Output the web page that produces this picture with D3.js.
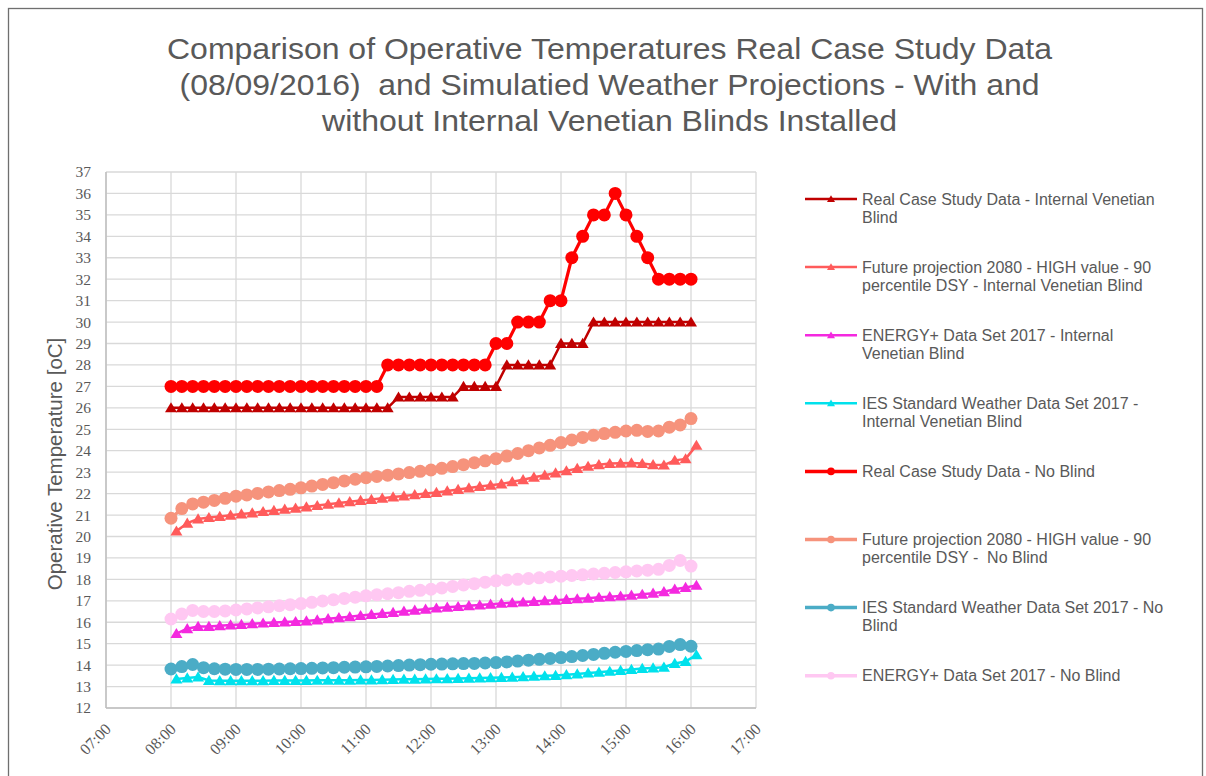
<!DOCTYPE html>
<html><head><meta charset="utf-8">
<script src="https://cdn.jsdelivr.net/npm/d3@7/dist/d3.min.js"></script>
<style>body{margin:0;background:#fff}svg{display:block}</style>
</head><body>
<svg id="c" width="1206" height="776"></svg>
<script>
const timesA = ["08:00","08:10","08:20","08:30","08:40","08:50","09:00","09:10","09:20","09:30","09:40","09:50","10:00","10:10","10:20","10:30","10:40","10:50","11:00","11:10","11:20","11:30","11:40","11:50","12:00","12:10","12:20","12:30","12:40","12:50","13:00","13:10","13:20","13:30","13:40","13:50","14:00","14:10","14:20","14:30","14:40","14:50","15:00","15:10","15:20","15:30","15:40","15:50","16:00"];
const timesB = ["08:05","08:15","08:25","08:35","08:45","08:55","09:05","09:15","09:25","09:35","09:45","09:55","10:05","10:15","10:25","10:35","10:45","10:55","11:05","11:15","11:25","11:35","11:45","11:55","12:05","12:15","12:25","12:35","12:45","12:55","13:05","13:15","13:25","13:35","13:45","13:55","14:05","14:15","14:25","14:35","14:45","14:55","15:05","15:15","15:25","15:35","15:45","15:55","16:05"];
const xTickLabels = ["07:00","08:00","09:00","10:00","11:00","12:00","13:00","14:00","15:00","16:00","17:00"];
const yTicks = [12,13,14,15,16,17,18,19,20,21,22,23,24,25,26,27,28,29,30,31,32,33,34,35,36,37];

const realBlind = [26,26,26,26,26,26,26,26,26,26,26,26,26,26,26,26,26,26,26,26,26,26.5,26.5,26.5,26.5,26.5,26.5,27,27,27,27,28,28,28,28,28,29,29,29,30,30,30,30,30,30,30,30,30,30];
const futureBlind = [20.25,20.62,20.82,20.88,20.93,20.99,21.05,21.1,21.16,21.21,21.27,21.32,21.38,21.44,21.5,21.56,21.62,21.68,21.73,21.78,21.84,21.89,21.95,22.0,22.05,22.12,22.19,22.26,22.33,22.39,22.45,22.55,22.65,22.76,22.86,22.96,23.06,23.17,23.27,23.35,23.4,23.42,23.43,23.4,23.35,23.33,23.55,23.62,24.25];
const energyBlind = [15.47,15.7,15.8,15.8,15.84,15.87,15.9,15.93,15.96,15.99,16.01,16.03,16.06,16.11,16.16,16.21,16.26,16.31,16.36,16.41,16.46,16.51,16.56,16.61,16.66,16.7,16.73,16.77,16.8,16.84,16.88,16.91,16.94,16.97,17.0,17.03,17.06,17.09,17.12,17.16,17.19,17.22,17.26,17.3,17.35,17.42,17.54,17.62,17.72];
const iesBlind = [13.35,13.4,13.45,13.28,13.27,13.27,13.27,13.27,13.27,13.28,13.28,13.28,13.28,13.29,13.29,13.3,13.3,13.31,13.31,13.32,13.33,13.34,13.34,13.35,13.36,13.37,13.38,13.39,13.4,13.41,13.42,13.44,13.46,13.48,13.5,13.52,13.55,13.59,13.63,13.67,13.71,13.75,13.8,13.84,13.87,13.9,14.08,14.17,14.48];
const realNoBlind = [27,27,27,27,27,27,27,27,27,27,27,27,27,27,27,27,27,27,27,27,28,28,28,28,28,28,28,28,28,28,29,29,30,30,30,31,31,33,34,35,35,36,35,34,33,32,32,32,32];
const futureNoBlind = [20.85,21.3,21.52,21.6,21.68,21.78,21.88,21.94,22.01,22.08,22.14,22.2,22.27,22.35,22.43,22.51,22.59,22.67,22.74,22.8,22.86,22.92,22.98,23.04,23.1,23.18,23.26,23.35,23.44,23.53,23.63,23.75,23.87,24.0,24.13,24.25,24.38,24.5,24.62,24.72,24.8,24.86,24.92,24.95,24.9,24.92,25.1,25.2,25.5];
const iesNoBlind = [13.82,13.93,14.03,13.88,13.83,13.81,13.8,13.8,13.8,13.81,13.82,13.83,13.84,13.85,13.87,13.88,13.9,13.91,13.92,13.94,13.96,13.98,14.0,14.02,14.04,14.05,14.06,14.07,14.08,14.1,14.12,14.15,14.19,14.23,14.27,14.31,14.35,14.4,14.45,14.5,14.55,14.6,14.64,14.68,14.72,14.75,14.87,14.96,14.88];
const energyNoBlind = [16.15,16.38,16.55,16.5,16.5,16.53,16.57,16.62,16.67,16.72,16.77,16.82,16.87,16.93,16.99,17.05,17.11,17.17,17.23,17.28,17.33,17.38,17.44,17.49,17.54,17.6,17.67,17.74,17.8,17.87,17.93,17.97,18.0,18.04,18.07,18.11,18.15,18.18,18.21,18.25,18.28,18.32,18.35,18.39,18.43,18.47,18.65,18.88,18.62];

const seriesNames = [
  ["Real Case Study Data - Internal Venetian","Blind"],
  ["Future projection 2080 - HIGH value - 90","percentile DSY - Internal Venetian Blind"],
  ["ENERGY+ Data Set 2017 - Internal","Venetian Blind"],
  ["IES Standard Weather Data Set 2017 -","Internal Venetian Blind"],
  ["Real Case Study Data - No Blind"],
  ["Future projection 2080 - HIGH value - 90","percentile DSY -  No Blind"],
  ["IES Standard Weather Data Set 2017 - No","Blind"],
  ["ENERGY+ Data Set 2017 - No Blind"]
];
const series = [
  {name:seriesNames[0], t:timesA, v:realBlind, color:"#C00000", marker:"tri", lw:2.5},
  {name:seriesNames[1], t:timesB, v:futureBlind, color:"#FF5B5B", marker:"tri", lw:2.5},
  {name:seriesNames[2], t:timesB, v:energyBlind, color:"#F429DF", marker:"tri", lw:2.5},
  {name:seriesNames[3], t:timesB, v:iesBlind, color:"#00E1EC", marker:"tri", lw:2.5},
  {name:seriesNames[4], t:timesA, v:realNoBlind, color:"#FF0000", marker:"circ", lw:3.2},
  {name:seriesNames[5], t:timesA, v:futureNoBlind, color:"#F6937C", marker:"circ", lw:3.2},
  {name:seriesNames[6], t:timesA, v:iesNoBlind, color:"#4BACC6", marker:"circ", lw:3.2},
  {name:seriesNames[7], t:timesA, v:energyNoBlind, color:"#FFC8F2", marker:"circ", lw:3.2}
];

const svg = d3.select("#c");
const toMin = s => { const [h,m] = s.split(":").map(Number); return h*60+m; };

svg.append("rect").attr("x",8.5).attr("y",8.5).attr("width",1194).attr("height",800)
  .attr("fill","#fff").attr("stroke","#6f6f6f").attr("stroke-width",1.3);

const x = d3.scaleLinear().domain([toMin("07:00"), toMin("17:00")]).range([106, 756]);
const y = d3.scaleLinear().domain([12, 37]).range([708, 172]);

// title
const titleLines = ["Comparison of Operative Temperatures Real Case Study Data","(08/09/2016)  and Simulatied Weather Projections - With and","without Internal Venetian Blinds Installed"];
const titleWidths = [885, 860, 575];
svg.append("g").selectAll("text").data(titleLines).join("text")
  .attr("x",609.5).attr("y",(d,i)=>59+i*36).attr("text-anchor","middle")
  .attr("font-family","Liberation Sans, Arial, sans-serif").attr("font-size",30)
  .attr("textLength",(d,i)=>titleWidths[i]).attr("lengthAdjust","spacingAndGlyphs")
  .attr("fill","#595959").style("white-space","pre").text(d=>d);

// gridlines
const grid = svg.append("g");
grid.selectAll("line.h").data(yTicks).join("line")
  .attr("x1",x.range()[0]).attr("x2",x.range()[1]).attr("y1",d=>y(d)).attr("y2",d=>y(d))
  .attr("stroke","#D9D9D9").attr("stroke-width",1.3);
grid.selectAll("line.v").data(xTickLabels).join("line")
  .attr("y1",y(12)).attr("y2",y(37)).attr("x1",d=>x(toMin(d))).attr("x2",d=>x(toMin(d)))
  .attr("stroke","#D9D9D9").attr("stroke-width",1.3);
// axis lines
svg.append("line").attr("x1",106).attr("x2",106).attr("y1",y(37)).attr("y2",y(12)).attr("stroke","#BFBFBF").attr("stroke-width",1.5);
svg.append("line").attr("x1",106).attr("x2",756).attr("y1",y(12)).attr("y2",y(12)).attr("stroke","#BFBFBF").attr("stroke-width",1.5);

// y axis labels
const yAxis = d3.axisLeft(y).tickValues(yTicks).tickSize(0).tickPadding(15);
const gy = svg.append("g").attr("transform","translate(106,0)").call(yAxis);
gy.select(".domain").remove();
gy.selectAll("text").attr("font-family","Liberation Serif, DejaVu Serif, serif").attr("font-size",15.5).attr("fill","#595959");

// x axis labels
const gx = svg.append("g");
gx.selectAll("text").data(xTickLabels).join("text")
  .attr("transform",d=>`translate(${x(toMin(d))+6},${y(12)+22}) rotate(-45)`)
  .attr("text-anchor","end").attr("font-family","Liberation Serif, DejaVu Serif, serif")
  .attr("font-size",16).attr("fill","#595959").text(d=>d);

// y title
svg.append("text").attr("transform","translate(62,464) rotate(-90)").attr("text-anchor","middle")
  .attr("font-family","Liberation Sans, Arial, sans-serif").attr("font-size",20.5).attr("fill","#595959")
  .text("Operative Temperature [oC]");

const triPath = s => `M0,${-s*0.95}L${s},${s*0.75}L${-s},${s*0.75}Z`;
const line = d3.line().x(d=>x(toMin(d[0]))).y(d=>y(d[1]));
const plot = svg.append("g");
series.forEach(s=>{
  const pts = s.t.map((t,i)=>[t,s.v[i]]);
  const g = plot.append("g");
  g.append("path").attr("d",line(pts)).attr("fill","none").attr("stroke",s.color).attr("stroke-width",s.lw).attr("stroke-linejoin","round");
  if (s.marker==="circ") {
    g.selectAll("circle").data(pts).join("circle").attr("cx",d=>x(toMin(d[0]))).attr("cy",d=>y(d[1])).attr("r",6.5).attr("fill",s.color);
  } else {
    g.selectAll("path.m").data(pts).join("path").attr("class","m")
      .attr("transform",d=>`translate(${x(toMin(d[0]))},${y(d[1])})`).attr("d",triPath(6)).attr("fill",s.color);
  }
});

// legend
const lg = svg.append("g");
series.forEach((s,i)=>{
  const cy = 199 + i*68.1;
  lg.append("line").attr("x1",805).attr("x2",857).attr("y1",cy).attr("y2",cy).attr("stroke",s.color).attr("stroke-width",s.marker==="circ"?3.5:2.5);
  if (s.marker==="circ") lg.append("circle").attr("cx",831).attr("cy",cy).attr("r",3.8).attr("fill",s.color);
  else lg.append("path").attr("transform",`translate(831,${cy})`).attr("d",triPath(4)).attr("fill",s.color);
  s.name.forEach((ln,j)=>{
    lg.append("text").attr("x",862).attr("y",cy+5.5+j*18.3).attr("font-family","Liberation Sans, Arial, sans-serif")
      .attr("font-size",16).attr("fill","#595959").style("white-space","pre").text(ln);
  });
});
</script>
</body></html>
